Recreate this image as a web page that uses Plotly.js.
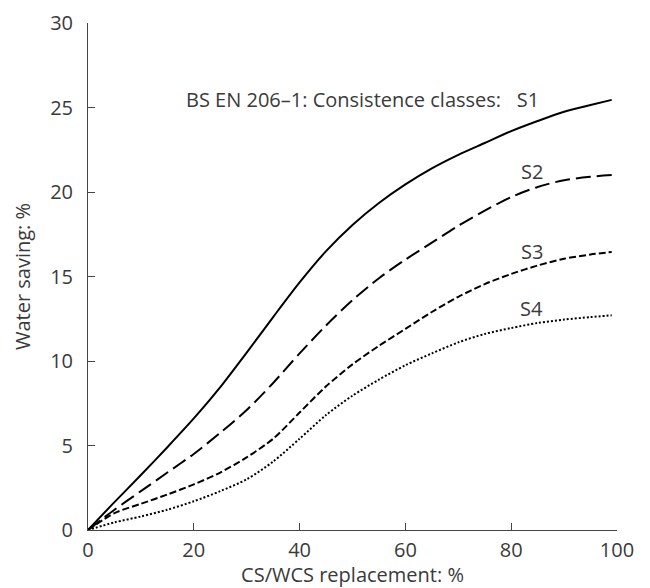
<!DOCTYPE html>
<html>
<head>
<meta charset="utf-8">
<script src="https://cdn.plot.ly/plotly-3.0.1.min.js"></script>
<style>html,body{margin:0;padding:0;background:#fff;}#chart{width:650px;height:588px;}</style>
</head>
<body>
<div id="chart"></div>
<script>
const xValues = [0, 5, 10, 15, 20, 25, 30, 35, 40, 45, 50, 55, 60, 65, 70, 75, 80, 85, 90, 95, 99];
const s1 = [0, 1.65, 3.25, 4.9, 6.6, 8.45, 10.5, 12.6, 14.65, 16.5, 18.05, 19.35, 20.45, 21.4, 22.2, 22.9, 23.6, 24.2, 24.75, 25.15, 25.45];
const s2 = [0, 1.2, 2.3, 3.4, 4.5, 5.75, 7.1, 8.7, 10.45, 12.1, 13.6, 14.9, 16.0, 17.0, 18.0, 18.9, 19.7, 20.3, 20.7, 20.9, 21.0];
const s3 = [0, 1.0, 1.55, 2.1, 2.7, 3.4, 4.3, 5.4, 6.95, 8.5, 9.8, 10.9, 11.9, 12.9, 13.8, 14.55, 15.15, 15.65, 16.05, 16.3, 16.45];
const s4 = [0, 0.45, 0.8, 1.2, 1.7, 2.3, 3.0, 4.05, 5.4, 6.8, 7.95, 8.9, 9.75, 10.45, 11.1, 11.6, 11.95, 12.25, 12.45, 12.6, 12.7];
const seriesNames = ["S1", "S2", "S3", "S4"];
const headerText = "BS EN 206\u20131: Consistence classes:   S1";
const xTicks = [0, 20, 40, 60, 80, 100];
const yTicks = [0, 5, 10, 15, 20, 25, 30];

const font = {family: "Open Sans, Noto Sans, sans-serif", size: 20, color: "#3a3a3a"};
const dashes = ["solid", "15px,6px", "7px,3px", "2px,2px"];
const all = [s1, s2, s3, s4];
const traces = all.map((ys, i) => ({
  x: xValues, y: ys, name: seriesNames[i], type: "scatter", mode: "lines",
  line: {color: "#000", width: 2, dash: dashes[i], shape: "spline", smoothing: 0.8},
  hoverinfo: "skip", showlegend: false
}));

const layout = {
  width: 650, height: 588,
  margin: {l: 88, r: 33, t: 23, b: 58},
  paper_bgcolor: "#fff", plot_bgcolor: "#fff",
  font: font,
  showlegend: false,
  xaxis: {
    range: [0, 100], tickvals: xTicks, ticktext: xTicks.map(String),
    ticks: "inside", ticklen: 7, tickcolor: "#444", tickwidth: 1,
    showline: true, linecolor: "#444", linewidth: 1, showgrid: false, zeroline: false,
    tickfont: font, ticklabelstandoff: 2,
    title: {text: "CS/WCS replacement: %", font: font, standoff: 2}
  },
  yaxis: {
    range: [0, 30], tickvals: yTicks, ticktext: yTicks.map(String),
    ticks: "inside", ticklen: 7, tickcolor: "#444", tickwidth: 1,
    showline: true, linecolor: "#444", linewidth: 1, showgrid: false, zeroline: false,
    tickfont: font, ticklabelstandoff: 10,
    title: {text: "Water saving: %", font: font, standoff: 14}
  },
  annotations: [
    {x: 85.6, y: 25.5, xref: "x", yref: "y", text: headerText, showarrow: false, xanchor: "right", yanchor: "middle", font: font},
    {x: 83.9, y: 21.2, xref: "x", yref: "y", text: seriesNames[1], showarrow: false, xanchor: "center", yanchor: "middle", font: font},
    {x: 83.9, y: 16.5, xref: "x", yref: "y", text: seriesNames[2], showarrow: false, xanchor: "center", yanchor: "middle", font: font},
    {x: 83.9, y: 13.1, xref: "x", yref: "y", text: seriesNames[3], showarrow: false, xanchor: "center", yanchor: "middle", font: font}
  ]
};
Plotly.newPlot("chart", traces, layout, {staticPlot: true, displayModeBar: false});
</script>
</body>
</html>
